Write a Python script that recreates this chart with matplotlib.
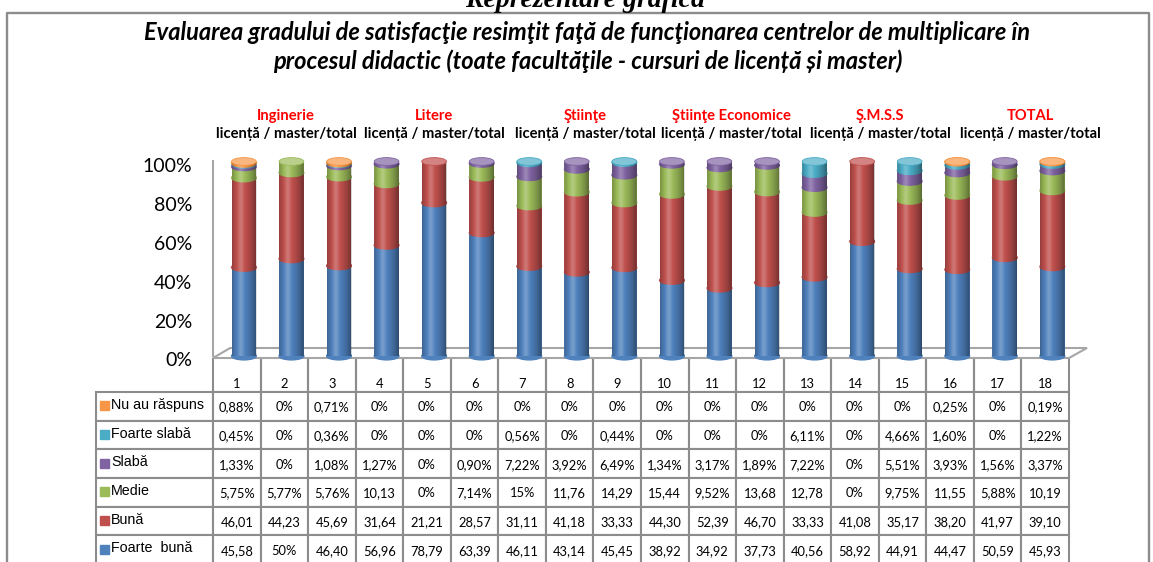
import numpy as np
import matplotlib
matplotlib.use("Agg")
import matplotlib.pyplot as plt
from matplotlib.patches import Ellipse, Polygon, Rectangle
from matplotlib.lines import Line2D
from matplotlib.colors import to_rgb
from matplotlib.transforms import ScaledTranslation, Affine2D

W, H = 1153, 562

bar_labels = [str(i) for i in range(1, 19)]
faculties = ["Inginerie", "Litere", "Ştiinţe", "Ştiinţe Economice", "Ş.M.S.S", "TOTAL"]
sub_label = "licență / master/total"

# stacked bottom -> top
series_names = ["Foarte  bună", "Bună", "Medie", "Slabă", "Foarte slabă", "Nu au răspuns"]
series_colors = ["#4F81BD", "#C0504D", "#9BBB59", "#8064A2", "#4BACC6", "#F79646"]

foarte_buna = [45.58, 50, 46.40, 56.96, 78.79, 63.39, 46.11, 43.14, 45.45,
               38.92, 34.92, 37.73, 40.56, 58.92, 44.91, 44.47, 50.59, 45.93]
buna = [46.01, 44.23, 45.69, 31.64, 21.21, 28.57, 31.11, 41.18, 33.33,
        44.30, 52.39, 46.70, 33.33, 41.08, 35.17, 38.20, 41.97, 39.10]
medie = [5.75, 5.77, 5.76, 10.13, 0, 7.14, 15, 11.76, 14.29,
         15.44, 9.52, 13.68, 12.78, 0, 9.75, 11.55, 5.88, 10.19]
slaba = [1.33, 0, 1.08, 1.27, 0, 0.90, 7.22, 3.92, 6.49,
         1.34, 3.17, 1.89, 7.22, 0, 5.51, 3.93, 1.56, 3.37]
foarte_slaba = [0.45, 0, 0.36, 0, 0, 0, 0.56, 0, 0.44,
                0, 0, 0, 6.11, 0, 4.66, 1.60, 0, 1.22]
nu_au_raspuns = [0.88, 0, 0.71, 0, 0, 0, 0, 0, 0,
                 0, 0, 0, 0, 0, 0, 0.25, 0, 0.19]

values = np.array([foarte_buna, buna, medie, slaba, foarte_slaba, nu_au_raspuns])


def fmt(v):
    # excel-ish display of the data table
    if float(v).is_integer():
        return "%d%%" % v
    s = ("%.2f" % v).replace(".", ",")
    return s + "%" if v < 10 else s


def lighten(c, f=0.3):
    r = np.array(to_rgb(c))
    return tuple(r + (1 - r) * f)


def fx(px):
    return px / W


def fy(py):
    return 1 - py / H


fig = plt.figure(figsize=(W / 100, H / 100), dpi=100)

# outer frame and cut-off heading
fig.add_artist(Line2D([fx(7), fx(7), fx(1149), fx(1149)], [0, fy(13), fy(13), 0],
                      color="#8C8C8C", lw=1.7))
fig.text(fx(585), fy(7), "Reprezentare grafică", ha="center", va="baseline",
         family="Liberation Serif", weight="bold", style="italic", fontsize=20)

title_font = dict(family="Lato", weight="bold", style="italic", fontsize=17, ha="center", va="center")
fig.text(fx(587), fy(32), "Evaluarea gradului de satisfacţie resimţit faţă de funcţionarea "
         "centrelor de multiplicare în", **title_font)
fig.text(fx(588), fy(61), "procesul didactic (toate facultăţile - cursuri de licență și master)",
         **title_font)

label_x = [286, 434, 585, 731, 880, 1030]
for name, px in zip(faculties, label_x):
    fig.text(fx(px), fy(116), name, color="#FF0000", weight="bold", family="Lato",
             fontsize=10.6, ha="center", va="center")
    fig.text(fx(px), fy(134), sub_label, color="black", weight="bold", family="Lato",
             fontsize=10.6, ha="center", va="center")

# plot area
y0_px, y100_px = 356, 161.5
ax_w = 1069 - 213
ah = y0_px - y100_px
ax = fig.add_axes([fx(213), fy(y0_px), ax_w / W, ah / H])
ax.set_xlim(-0.5, 17.5)
ax.set_ylim(0, 100)
for s in ["top", "right", "bottom"]:
    ax.spines[s].set_visible(False)
ax.spines["left"].set_color("#A6A6A6")
ax.spines["left"].set_linewidth(1.5)
ax.set_xticks([])
ax.set_yticks(range(0, 101, 20))
ax.set_yticklabels(["%d%%" % t for t in range(0, 101, 20)], family="Lato", fontsize=14)
ax.tick_params(axis="y", length=0, pad=15)
ax.patch.set_visible(False)
down = ScaledTranslation(0, -3.5 / 100, fig.dpi_scale_trans)
for lab in ax.get_yticklabels():
    lab.set_transform(lab.get_transform() + down)

# floor of the 3d chart
front = (y0_px - 358) / ah
back = (y0_px - 348) / ah
ax.add_patch(Polygon([(0, front), (1, front), (1.021, back), (0.02, back)], closed=True,
                     transform=ax.transAxes, fill=False, edgecolor="#A6A6A6", lw=1.5,
                     clip_on=False, zorder=1))

# cylinder shading across the width
u = np.linspace(0, 1, 40)
d = u - 0.35
dark = np.where(d < 0, 0.22 * (d / 0.35) ** 2, 0.42 * (d / 0.65) ** 2)
light = 0.22 * np.exp(-(d / 0.13) ** 2)
shade = np.zeros((1, len(u), 4))
shade[0, :, :3] = np.where(light[:, None] > dark[:, None], 1.0, 0.0)
shade[0, :, 3] = np.where(light > dark, light - dark, dark - light)

# cylinders
xs = np.arange(len(bar_labels)) + 0.15
bw = 0.52
eh = 4.0
z = 3
th = np.linspace(0, np.pi, 30)
for j, xj in enumerate(xs):
    bottom = 0
    top_k = 0
    for k in range(len(series_names)):
        v = values[k, j]
        if v <= 0:
            continue
        ax.bar(xj, v, bw, bottom=bottom, color=series_colors[k], zorder=z, clip_on=False)
        ax.add_patch(Ellipse((xj, bottom), bw, eh, color=series_colors[k], zorder=z, clip_on=False))
        z += 0.01
        bottom += v
        top_k = k
    outline = np.concatenate([
        np.column_stack([xj - bw / 2 * np.cos(th), -eh / 2 * np.sin(th)]),
        np.column_stack([xj + bw / 2 * np.cos(th), bottom + eh / 2 * np.sin(th)]),
    ])
    clip = Polygon(outline, closed=True, transform=ax.transData, visible=False)
    ax.add_patch(clip)
    im = ax.imshow(shade, extent=[xj - bw / 2, xj + bw / 2, -eh, bottom + eh],
                   aspect="auto", interpolation="bilinear", zorder=z, clip_on=True)
    im.set_clip_path(clip)
    z += 0.01
    ax.add_patch(Ellipse((xj, bottom), bw, eh, facecolor=lighten(series_colors[top_k]),
                         edgecolor=series_colors[top_k], lw=0.6, zorder=z, clip_on=False))
    z += 0.01
ax.set_xlim(-0.5, 17.5)
ax.set_ylim(0, 100)

# data table
table_rows = [nu_au_raspuns, foarte_slaba, slaba, medie, buna, foarte_buna]
row_names = ["Nu au răspuns", "Foarte slabă", "Slabă", "Medie", "Bună", "Foarte  bună"]
row_colors = ["#F79646", "#4BACC6", "#8064A2", "#9BBB59", "#C0504D", "#4F81BD"]
cell_text = [[fmt(v) for v in r] for r in table_rows]

head_h, row_h = 34, 28.67
tbl_bottom = 358 + head_h + row_h * len(table_rows)
tbl = ax.table(cellText=cell_text, rowLabels=row_names, colLabels=bar_labels,
               cellLoc="center", rowLoc="left",
               bbox=[0, (y0_px - tbl_bottom) / ah, 1, (tbl_bottom - 358) / ah])
tbl.auto_set_font_size(False)
tbl.set_fontsize(9.3)
for (r, c), cell in tbl.get_celld().items():
    cell.set_edgecolor("#8C8C8C")
    cell.set_linewidth(1.5)
    # sizes in axes fractions so the bbox fit keeps them
    cell.set_height((head_h if r == 0 else row_h) / ah)
    cell.set_width((118 if c == -1 else ax_w / 18) / ax_w)
    t = cell.get_text()
    if c == -1:
        cell.PAD = 15 / 118
        t.set_family("Liberation Sans")
        t.set_fontsize(10.3)
        t.set_transform(Affine2D().translate(0, 1.5))
    else:
        t.set_family("Lato")
        t.set_transform(Affine2D().translate(0, -1))
    if r == 0:
        cell.visible_edges = "BLR"
        t.set_verticalalignment("top")
        t.set_transform(Affine2D().translate(0, -3))

for i, col in enumerate(row_colors):
    cy = 358 + head_h + row_h * (i + 0.5)
    fig.add_artist(Rectangle((fx(100), fy(cy + 4)), 9 / W, 9 / H, color=col,
                             transform=fig.transFigure))

fig.savefig("out.png", dpi=100)
